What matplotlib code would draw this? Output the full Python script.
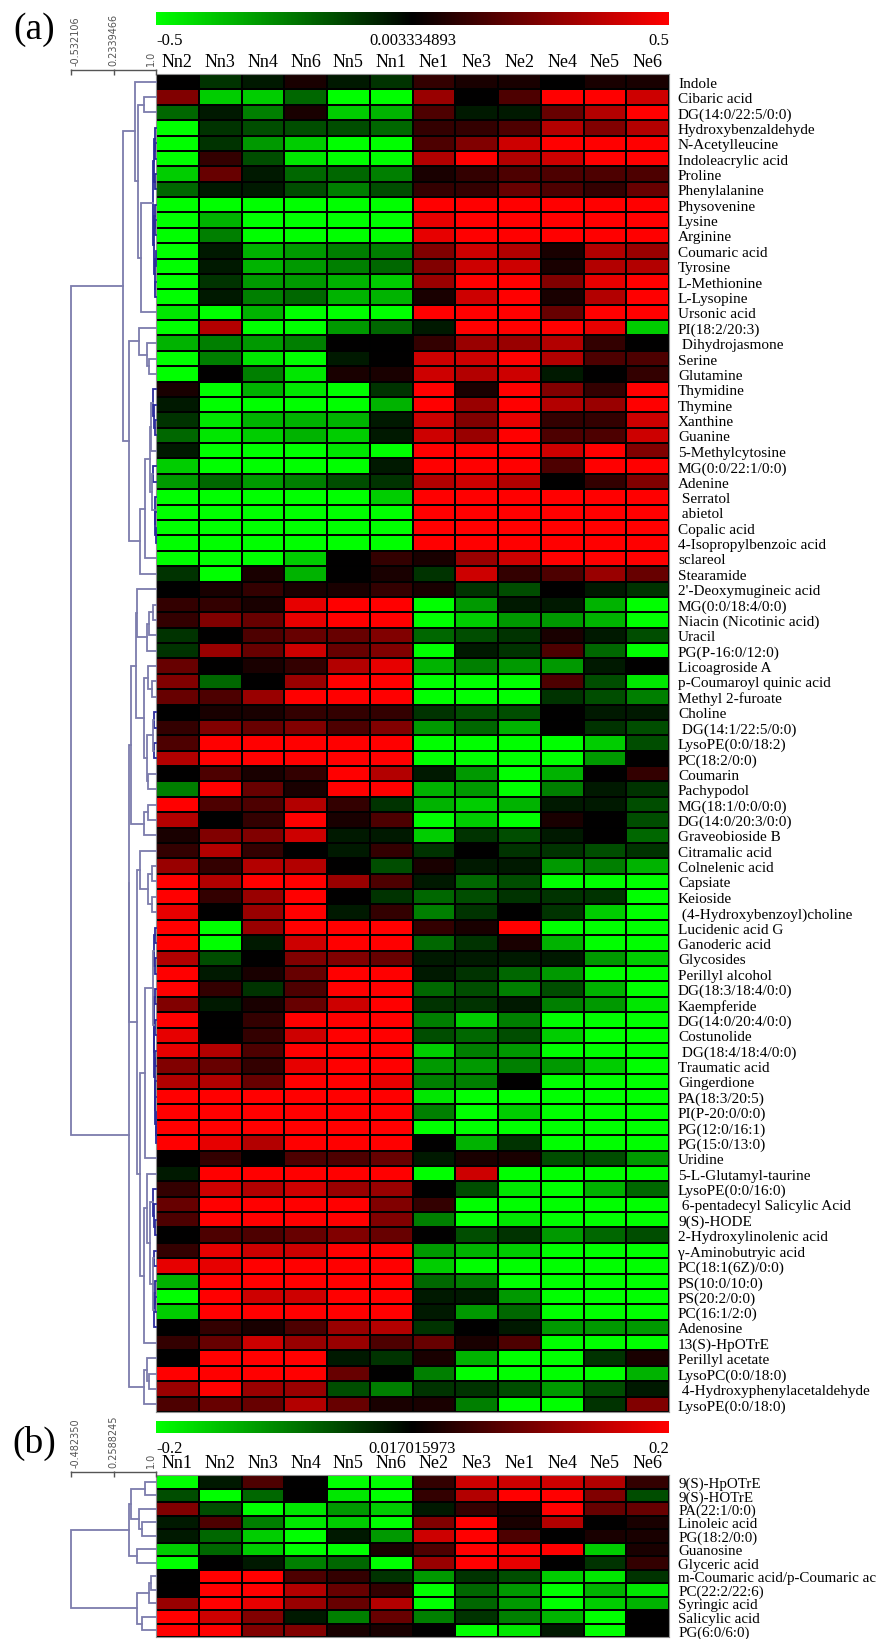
import numpy as np
import matplotlib
matplotlib.use("Agg")
import matplotlib.pyplot as plt
from matplotlib.colors import LinearSegmentedColormap

plt.rcParams['font.family'] = ['Liberation Serif', 'DejaVu Serif']

W, H = 876, 1640

cols_a = ["Nn2", "Nn3", "Nn4", "Nn6", "Nn5", "Nn1", "Ne1", "Ne3", "Ne2", "Ne4", "Ne5", "Ne6"]
cols_b = ["Nn1", "Nn2", "Nn3", "Nn4", "Nn5", "Nn6", "Ne2", "Ne3", "Ne1", "Ne4", "Ne5", "Ne6"]

labels_a = [
    "Indole", "Cibaric acid", "DG(14:0/22:5/0:0)", "Hydroxybenzaldehyde", "N-Acetylleucine",
    "Indoleacrylic acid", "Proline", "Phenylalanine", "Physovenine", "Lysine", "Arginine",
    "Coumaric acid", "Tyrosine", "L-Methionine", "L-Lysopine", "Ursonic acid", "PI(18:2/20:3)",
    " Dihydrojasmone", "Serine", "Glutamine", "Thymidine", "Thymine", "Xanthine", "Guanine",
    "5-Methylcytosine", "MG(0:0/22:1/0:0)", "Adenine", " Serratol", " abietol", "Copalic acid",
    "4-Isopropylbenzoic acid", "sclareol", "Stearamide", "2'-Deoxymugineic acid",
    "MG(0:0/18:4/0:0)", "Niacin (Nicotinic acid)", "Uracil", "PG(P-16:0/12:0)", "Licoagroside A",
    "p-Coumaroyl quinic acid", "Methyl 2-furoate", "Choline", " DG(14:1/22:5/0:0)",
    "LysoPE(0:0/18:2)", "PC(18:2/0:0)", "Coumarin", "Pachypodol", "MG(18:1/0:0/0:0)",
    "DG(14:0/20:3/0:0)", "Graveobioside B", "Citramalic acid", "Colnelenic acid", "Capsiate",
    "Keioside", " (4-Hydroxybenzoyl)choline", "Lucidenic acid G", "Ganoderic acid", "Glycosides",
    "Perillyl alcohol", "DG(18:3/18:4/0:0)", "Kaempferide", "DG(14:0/20:4/0:0)", "Costunolide",
    " DG(18:4/18:4/0:0)", "Traumatic acid", "Gingerdione", "PA(18:3/20:5)", "PI(P-20:0/0:0)",
    "PG(12:0/16:1)", "PG(15:0/13:0)", "Uridine", "5-L-Glutamyl-taurine", "LysoPE(0:0/16:0)",
    " 6-pentadecyl Salicylic Acid", "9(S)-HODE", "2-Hydroxylinolenic acid", "γ-Aminobutryic acid",
    "PC(18:1(6Z)/0:0)", "PS(10:0/10:0)", "PS(20:2/0:0)", "PC(16:1/2:0)", "Adenosine",
    "13(S)-HpOTrE", "Perillyl acetate", "LysoPC(0:0/18:0)", " 4-Hydroxyphenylacetaldehyde",
    "LysoPE(0:0/18:0)",
]

labels_b = [
    "9(S)-HpOTrE", "9(S)-HOTrE", "PA(22:1/0:0)", "Linoleic acid", "PG(18:2/0:0)", "Guanosine",
    "Glyceric acid", "m-Coumaric acid/p-Coumaric acid", "PC(22:2/22:6)", "Syringic acid",
    "Salicylic acid", "PG(6:0/6:0)",
]

# colour strength per cell, -10 full green .. 10 full red
values_a = np.array([
    [0, -2, -1, 1, -1, -2, 2, 1, 1, 0, 1, 1],
    [5, -8, -8, -4, -10, -10, 6, 0, 3, 10, 10, 8],
    [-4, -1, -5, 1, -8, -7, 3, -1, -1, 4, 7, 10],
    [-10, -2, -3, -3, -3, -4, 2, 2, 3, 7, 5, 7],
    [-10, -2, -6, -8, -10, -10, 3, 5, 8, 10, 10, 10],
    [-10, 2, -3, -9, -10, -10, 7, 10, 7, 8, 10, 10],
    [-8, 4, -1, -4, -4, -5, 1, 2, 3, 3, 3, 3],
    [-4, -1, -1, -3, -5, -3, 2, 2, 4, 3, 2, 4],
    [-10, -10, -10, -10, -10, -10, 10, 10, 10, 10, 10, 10],
    [-10, -7, -10, -10, -10, -10, 9, 10, 10, 10, 10, 10],
    [-10, -5, -10, -10, -10, -10, 9, 10, 10, 10, 10, 10],
    [-10, -1, -7, -6, -5, -5, 5, 8, 7, 1, 7, 6],
    [-10, -1, -7, -6, -5, -4, 5, 8, 8, 1, 7, 7],
    [-10, -2, -6, -6, -7, -8, 6, 10, 10, 5, 9, 10],
    [-10, -1, -5, -4, -7, -7, 1, 8, 10, 1, 7, 10],
    [-9, -10, -7, -10, -10, -10, 10, 10, 10, 4, 10, 10],
    [-10, 7, -10, -10, -6, -4, -1, 10, 10, 10, 9, -8],
    [-7, -5, -6, -5, 0, 0, 2, 6, 6, 7, 2, 0],
    [-10, -5, -9, -10, -1, 0, 8, 8, 10, 7, 3, 3],
    [-10, 0, -5, -9, 1, 1, 8, 7, 8, -1, 0, 2],
    [1, -10, -7, -9, -10, -2, 10, 1, 10, 5, 2, 10],
    [-1, -10, -10, -10, -10, -7, 10, 6, 10, 7, 6, 10],
    [-2, -9, -7, -7, -7, -1, 8, 5, 9, 2, 2, 8],
    [-4, -9, -8, -7, -8, -1, 8, 6, 10, 3, 3, 8],
    [-1, -10, -10, -10, -9, -10, 10, 10, 10, 8, 10, 5],
    [-8, -10, -10, -10, -10, -1, 10, 10, 10, 3, 10, 10],
    [-6, -4, -6, -5, -3, -2, 7, 8, 7, 0, 2, 5],
    [-10, -10, -10, -10, -10, -8, 10, 10, 10, 10, 10, 10],
    [-10, -10, -10, -10, -10, -10, 10, 10, 10, 10, 10, 10],
    [-10, -10, -10, -10, -10, -10, 10, 10, 10, 10, 10, 10],
    [-10, -10, -10, -10, -10, -10, 10, 10, 10, 10, 10, 10],
    [-10, -10, -10, -8, 0, 2, 1, 6, 8, 10, 10, 10],
    [-2, -10, 1, -7, 0, 1, -2, 8, 2, 3, 6, 4],
    [0, 1, 2, 1, 1, 2, 1, -2, -3, 0, -1, -2],
    [2, 2, 1, 9, 10, 10, -10, -6, -1, -1, -7, -10],
    [2, 5, 4, 9, 10, 10, -10, -8, -6, -6, -7, -10],
    [-2, 0, 3, 4, 4, 5, -4, -3, -2, 1, -1, -3],
    [-2, 6, 4, 8, 4, 5, -10, -1, -2, 3, -4, -10],
    [4, 0, 1, 2, 7, 9, -7, -5, -6, -6, -1, 0],
    [5, -4, 0, 6, 10, 10, -10, -10, -10, 3, -3, -9],
    [4, 3, 6, 10, 10, 10, -10, -10, -10, -2, -3, -5],
    [0, 1, 1, 2, 2, 2, -2, -3, -3, 0, -1, -1],
    [2, 5, 4, 5, 3, 5, -6, -4, -7, 0, -2, -3],
    [3, 10, 10, 10, 10, 10, -10, -10, -10, -10, -8, -3],
    [7, 10, 10, 10, 10, 10, -10, -10, -10, -10, -6, 0],
    [0, 3, 1, 2, 10, 7, -1, -6, -10, -7, 0, 2],
    [-5, 10, 4, 1, 10, 10, -7, -6, -10, -5, -1, -2],
    [10, 3, 3, 7, 2, -2, -7, -8, -7, -1, -1, -3],
    [7, 0, 2, 10, 1, 3, -10, -8, -10, 1, 0, -3],
    [1, 5, 5, 8, -1, -1, -8, -2, -3, -1, 0, -4],
    [2, 7, 2, 0, -1, 2, -2, 0, -2, -2, -3, -2],
    [6, 2, 7, 7, 0, -3, 1, -1, -1, -6, -5, -7],
    [10, 7, 10, 10, 6, 3, -1, -4, -3, -10, -10, -10],
    [10, 2, 6, 10, 0, -2, -4, -3, -2, -2, -2, -10],
    [9, 0, 6, 10, -1, 2, -5, -2, 0, -2, -8, -10],
    [10, -10, 6, 10, 10, 10, 2, 1, 10, -10, -10, -10],
    [10, -10, -1, 8, 10, 10, -4, -2, 1, -7, -10, -10],
    [7, -3, 0, 5, 5, 4, -1, -1, -1, -1, -6, -8],
    [10, -1, 1, 4, 10, 10, -1, -2, -4, -6, -10, -10],
    [10, 2, -2, 3, 10, 10, -4, -3, -5, -3, -7, -10],
    [5, -1, 1, 4, 8, 10, -2, -2, -1, -5, -6, -9],
    [10, 0, 2, 10, 10, 10, -5, -8, -5, -10, -10, -10],
    [9, 0, 2, 8, 10, 10, -3, -4, -3, -8, -10, -10],
    [9, 7, 3, 10, 10, 10, -8, -5, -6, -10, -10, -10],
    [5, 4, 2, 9, 10, 10, -6, -6, -5, -6, -8, -10],
    [7, 7, 4, 10, 10, 9, -5, -5, 0, -10, -10, -10],
    [10, 10, 10, 10, 10, 10, -9, -10, -10, -10, -10, -10],
    [10, 10, 10, 10, 10, 10, -5, -10, -8, -10, -10, -10],
    [10, 10, 10, 10, 10, 10, -10, -10, -10, -10, -10, -10],
    [10, 9, 7, 10, 10, 10, 0, -7, -2, -10, -10, -10],
    [0, 2, 0, 3, 3, 4, -1, 1, 1, -3, -3, -6],
    [-1, 10, 10, 10, 10, 10, -10, 8, -10, -10, -10, -10],
    [2, 8, 7, 8, 6, 6, 0, -3, -9, -10, -7, -4],
    [4, 10, 10, 10, 10, 5, 2, -10, -10, -10, -10, -10],
    [3, 10, 10, 10, 10, 5, -5, -10, -9, -10, -10, -10],
    [0, 3, 3, 4, 5, 4, 0, -3, -2, -6, -4, -3],
    [2, 9, 8, 8, 10, 10, -6, -7, -8, -10, -10, -10],
    [9, 9, 10, 10, 10, 10, -8, -10, -10, -10, -10, -10],
    [-7, 10, 10, 10, 10, 10, -4, -5, -10, -10, -10, -10],
    [-10, 10, 8, 8, 10, 10, -1, -1, -6, -10, -10, -10],
    [-8, 10, 10, 10, 10, 10, -1, -6, -4, -10, -10, -10],
    [0, 2, 1, 3, 6, 7, -2, 0, -1, -6, -6, -6],
    [2, 4, 8, 6, 6, 3, 4, 1, 3, -10, -10, -10],
    [0, 10, 10, 10, -1, -2, 1, -7, -10, -10, -2, 1],
    [10, 10, 10, 10, 4, 0, -5, -10, -10, -10, -10, -7],
    [6, 10, 6, 6, -3, -5, -2, -2, -3, -6, -3, -1],
    [3, 4, 4, 7, 4, 1, 1, -5, -10, -10, -2, 5],
])

values_b = np.array([
    [-10, -1, 3, 0, -10, -10, 2, 8, 8, 8, 7, 2],
    [-3, -10, -4, 0, -9, -10, 2, 7, 10, 10, 5, -3],
    [5, -3, -10, -9, -6, -8, -1, 2, 1, 10, 4, 4],
    [-1, 3, -5, -9, -8, -10, 5, 10, 1, 7, 0, 1],
    [-1, -4, -8, -10, -1, -6, 8, 10, 3, 0, 1, 1],
    [-8, -4, -8, -10, -10, 1, 3, 10, 10, 10, -8, 1],
    [-10, 0, -1, -5, -4, -10, 6, 10, 9, 0, -2, 2],
    [0, 10, 10, 3, 2, -2, -6, -2, -3, -8, -9, -2],
    [0, 10, 10, 7, 4, 2, -10, -4, -6, -10, -7, -9],
    [6, 10, 9, 6, 4, 7, -10, -4, -6, -10, -8, -7],
    [10, 8, 5, -1, -5, 4, -5, -2, -5, -7, -10, 0],
    [10, 10, 5, 5, 1, 1, 0, -10, -9, -1, -10, 0],
])

# clustering as [merge level, upper branch, lower branch], ints are row numbers from 1
upper_a = [0.40,
           [0.62, 1,
            [0.67, [0.78, 2, 3],
             [0.73,
              [0.945,
               [0.96, [0.975, 4, [0.985, 5, 6]], [0.98, 7, 8]],
               [0.965, [0.985, 9, [0.99, 10, 11]], [0.975, [0.995, 12, 13], [0.985, 14, 15]]]],
              16]]],
           [0.513,
            [0.69, 17, [0.84, 18, [0.88, 19, 20]]],
            [0.71,
             [0.80,
              [0.89,
               [0.91, [0.95, 21, [0.97, 22, [0.98, 23, 24]]], 25],
               [0.93, [0.95, 26, 27], [0.985, 28, [0.99, 29, [0.995, 30, 31]]]]],
              32],
             33]]]

lower_a = [0.51,
           [0.52,
            [0.55,
             [0.64,
              [0.66, 34, [0.84, [0.87, [0.94, 35, 36], 37], 38]],
              [0.78,
               [0.86, 39, [0.92, 40, 41]],
               [0.83, [0.94, [0.97, 42, 43], [0.97, 44, 45]], [0.85, 46, 47]]]],
             [0.78, [0.86, 48, 49], 50]],
            [0.66,
             [0.71, 51, [0.85, [0.92, 52, 53], [0.92, 54, 55]]],
             [0.71,
              [0.80,
               [0.94,
                [0.965, [0.98, 56, 57], [0.98, 58, 59]],
                [0.96, [0.975, 60, 61],
                 [0.97, [0.98, 62, 63], [0.975, [0.985, 64, 65], [0.98, 66, [0.99, 67, [0.995, 68, [0.995, 69, 70]]]]]]]],
               71],
              [0.78,
               [0.84, 72,
                [0.90,
                 [0.95, 73, [0.96, 74, [0.98, 75, 76]]],
                 [0.94, [0.97, 77, 78], [0.965, [0.985, 79, [0.99, 80, 81]], 82]]]],
               83]]]],
           [0.78, [0.84, 84, [0.88, 85, 86]], 87]]

tree_a = [-0.532106, upper_a, lower_a]

tree_b = [-0.482350,
          [0.53,
           [0.56, [0.81, 1, 2], [0.70, 3, [0.76, 4, 5]]],
           [0.675, 6, 7]],
          [0.675,
           [0.884, [0.907, 8, 9], 10],
           [0.76, 11, 12]]]


def px_axes(fig, left, top, right, bottom):
    return fig.add_axes([left / W, 1 - bottom / H, (right - left) / W, (bottom - top) / H])


def draw_tree(ax, node):
    # returns (level, y) of the node so the parent can join to it
    if not isinstance(node, list):
        return 1.0, node - 0.5
    level, upper, lower = node
    x1, y1 = draw_tree(ax, upper)
    x2, y2 = draw_tree(ax, lower)
    col = "#2c2c9c" if level > 0.94 else "#7c7cac"
    ax.plot([x1, level, level, x2], [y1, y1, y2, y2], color=col, lw=1.3,
            solid_joinstyle="miter", clip_on=False)
    return level, (y1 + y2) / 2


def panel(fig, cols, labels, values, vmax, mid_text, tree, scale_labels, letter,
          bar_top, bar_bottom, scale_y, top, bottom, letter_y, fsize):
    cmap = LinearSegmentedColormap.from_list("gkr", ["#00ff00", "#000000", "#ff0000"])
    left, right = 156, 669

    # colour bar
    ax = px_axes(fig, left, bar_top, right, bar_bottom)
    ax.imshow(np.linspace(-vmax, vmax, 400)[None, :], cmap=cmap, aspect="auto",
              extent=[-vmax, vmax, 0, 1])
    ax.set_yticks([])
    ax.set_xticks([-vmax, 0, vmax])
    ax.set_xticklabels(["-%g" % vmax, mid_text, "%g" % vmax], fontsize=12)
    ax.get_xticklabels()[0].set_ha("left")
    ax.get_xticklabels()[2].set_ha("right")
    ax.tick_params(axis="x", length=0, pad=5)
    for s in ax.spines.values():
        s.set_visible(False)

    # heat map
    ax = px_axes(fig, left, top, right, bottom)
    ax.pcolormesh(values * vmax / 10, cmap=cmap, vmin=-vmax, vmax=vmax,
                  edgecolors="black", linewidth=1.3)
    ax.set_xlim(0, 12)
    ax.set_ylim(len(labels), 0)
    ax.xaxis.tick_top()
    ax.yaxis.tick_right()
    ax.set_xticks(np.arange(12) + 0.5)
    ax.set_xticklabels(cols, fontsize=13)
    ax.set_yticks(np.arange(len(labels)) + 0.5)
    ax.set_yticklabels(labels, fontsize=fsize)
    ax.tick_params(length=0)
    ax.tick_params(axis="x", pad=3)
    ax.tick_params(axis="y", pad=6.5)
    for s in ax.spines.values():
        s.set_color("#909090")
        s.set_linewidth(0.8)

    # dendrogram
    ax = px_axes(fig, 71, top, left, bottom)
    draw_tree(ax, tree)
    ax.set_xlim(tree[0], 1.0)
    ax.set_ylim(len(labels), 0)
    ax.axis("off")

    # distance scale
    ax = px_axes(fig, 71, scale_y - 1, left, scale_y)
    ax.set_xlim(tree[0], 1.0)
    ax.set_yticks([])
    for name in ["top", "left", "right"]:
        ax.spines[name].set_visible(False)
    ax.spines["bottom"].set_color("#555555")
    ax.spines["bottom"].set_linewidth(1.0)
    ax.xaxis.tick_top()
    mid = (tree[0] + 1.0) / 2
    ax.set_xticks([tree[0], mid, 1.0])
    ax.set_xticklabels(scale_labels, rotation=90, fontsize=7, color="#555555",
                       family="DejaVu Sans")
    ax.get_xticklabels()[0].set_ha("left")
    ax.get_xticklabels()[2].set_ha("right")
    ax.tick_params(axis="x", direction="in", length=4, width=1, color="#555555", pad=3)

    fig.text(34 / W, 1 - letter_y / H, letter, fontsize=27, ha="center", va="center")


fig = plt.figure(figsize=(W / 100, H / 100), dpi=100, facecolor="white")

panel(fig, cols_a, labels_a, values_a, 0.5, "0.003334893", tree_a,
      ["-0.532106", "0.2339466", "1.0"], "(a)", 13, 26, 71, 75, 1413, 30, 11)
panel(fig, cols_b, labels_b, values_b, 0.2, "0.017015973", tree_b,
      ["-0.482350", "0.2588245", "1.0"], "(b)", 1422, 1434, 1473, 1476, 1638, 1443, 10.8)

fig.savefig("out.png", dpi=100)
